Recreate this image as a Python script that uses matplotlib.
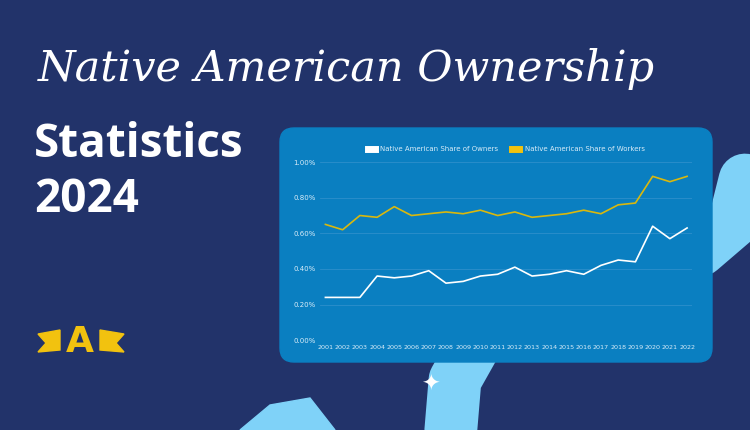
import matplotlib.pyplot as plt
from matplotlib.patches import FancyBboxPatch, Polygon
import numpy as np

years = [str(y) for y in range(2001, 2023)]
owners = [0.24, 0.24, 0.24, 0.36, 0.35, 0.36, 0.39, 0.32, 0.33, 0.36, 0.37,
          0.41, 0.36, 0.37, 0.39, 0.37, 0.42, 0.45, 0.44, 0.64, 0.57, 0.63]
workers = [0.65, 0.62, 0.70, 0.69, 0.75, 0.70, 0.71, 0.72, 0.71, 0.73, 0.70,
           0.72, 0.69, 0.70, 0.71, 0.73, 0.71, 0.76, 0.77, 0.92, 0.89, 0.92]
yticks = [0, 0.2, 0.4, 0.6, 0.8, 1.0]

navy = '#22336a'
panel = '#0a7fc1'
sky = '#7fd2f8'
gold = '#f2c20f'

fig = plt.figure(figsize=(7.5, 4.3), dpi=100, facecolor=navy)

# background decorations in pixel coords
bg = fig.add_axes([0, 0, 1, 1])
bg.set_xlim(0, 750)
bg.set_ylim(430, 0)
bg.axis('off')

# light blue swoosh
bg.plot([450, 455, 500, 600, 700, 735, 745], [440, 380, 300, 260, 250, 220, 180],
        color=sky, lw=38, solid_capstyle='round', zorder=1)
bg.add_patch(Polygon([[240, 430], [270, 405], [310, 398], [335, 430]], color=sky, zorder=1))

# chart panel
bg.add_patch(FancyBboxPatch((280, 128), 432, 234, boxstyle='round,pad=0,rounding_size=14',
                            color=panel, zorder=2))

# sparkle
bg.text(430, 385, '\u2726', color='white', fontsize=16, ha='center', va='center', zorder=3)

# logo
bg.add_patch(Polygon([[38, 334], [60, 330], [60, 350], [38, 352], [46, 343]], color=gold))
bg.add_patch(Polygon([[100, 330], [124, 334], [116, 343], [124, 352], [100, 350]], color=gold))
bg.text(80, 342, 'A', color=gold, fontsize=26, fontweight='bold', ha='center', va='center',
        family='DejaVu Sans')

# titles
fig.text(0.05, 0.84, 'Native American Ownership', color='white', fontsize=31,
         family='DejaVu Serif', style='italic', fontweight='light', va='center')
fig.text(0.045, 0.665, 'Statistics', color='white', fontsize=33, fontweight='bold',
         family='Open Sans', va='center')
fig.text(0.045, 0.535, '2024', color='white', fontsize=33, fontweight='bold',
         family='Open Sans', va='center')

# chart
ax = fig.add_axes([0.427, 0.209, 0.496, 0.414])
ax.set_facecolor('none')
x = np.arange(len(years))
ax.plot(x, owners, color='white', lw=1.2, label='Native American Share of Owners')
ax.plot(x, workers, color='#d9b80e', lw=1.2, label='Native American Share of Workers')
ax.set_ylim(0, 1.0)
ax.set_xlim(-0.3, len(years) - 0.7)
ax.set_yticks(yticks)
ax.set_yticklabels(['%.2f%%' % v for v in yticks])
ax.set_xticks(x)
ax.set_xticklabels(years)
ax.tick_params(colors='#d8ecf8', labelsize=5, length=0)
ax.tick_params(axis='x', labelsize=4.6)
ax.grid(axis='y', color='#2d8fcb', lw=0.6)
for s in ax.spines.values():
    s.set_visible(False)
leg = ax.legend(loc='lower center', bbox_to_anchor=(0.5, 1.02), ncol=2, frameon=False,
                fontsize=5, labelcolor='#d8ecf8', handlelength=1, handleheight=1)
for h, c in zip(leg.legend_handles, ['white', gold]):
    h.set_linewidth(5)
    h.set_color(c)

fig.savefig('out.png', dpi=100, facecolor=navy)
